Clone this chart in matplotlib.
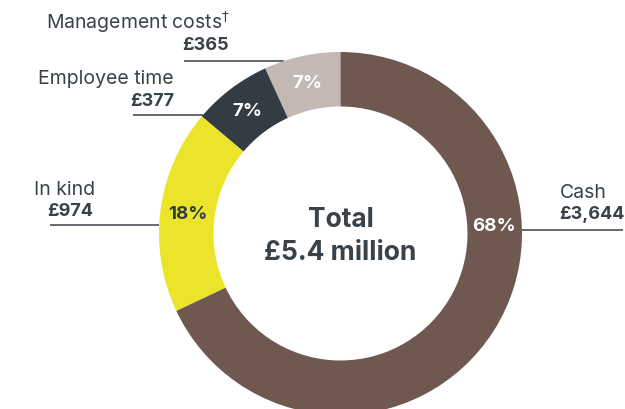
import numpy as np
import matplotlib.pyplot as plt

# funding sources, in £ thousands
names = ['Management costs', 'Employee time', 'In kind', 'Cash']
values = [365, 377, 974, 3644]
amounts = ['£365', '£377', '£974', '£3,644']
colors = ['#c4b8b5', '#343c43', '#ece42a', '#6e5850']
pct_colors = ['white', 'white', '#343c43', 'white']
total_label = '£5.4 million'

txt = '#3a4249'
plt.rcParams['font.family'] = ['Inter', 'DejaVu Sans']

fig = plt.figure(figsize=(6.25, 4.1), dpi=100)
ax = fig.add_axes([0, 0, 1, 1])
ax.set_xlim(0, 625)
ax.set_ylim(0, 410)
ax.set_aspect('equal')
ax.axis('off')

cx, cy = 340.5, 410 - 234.5
r_out, r_in = 181.5, 127

wedges, _ = ax.pie(values, colors=colors, startangle=90, counterclock=True,
                   radius=r_out, center=(cx, cy),
                   wedgeprops=dict(width=r_out - r_in, linewidth=0))
ax.set_xlim(0, 625)
ax.set_ylim(0, 410)

# percentage labels at the middle of each ring segment
total = sum(values)
r_mid = (r_out + r_in) / 2
for i, w in enumerate(wedges):
    pct = '%.0f%%' % (values[i] / total * 100)
    if names[i] == 'Cash':
        px, py = 494, 410 - 227
    else:
        a = np.deg2rad((w.theta1 + w.theta2) / 2)
        px, py = cx + r_mid * np.cos(a), cy + r_mid * np.sin(a)
    ax.text(px, py, pct, color=pct_colors[i], fontsize=13.5, fontweight='bold',
            ha='center', va='center')

ax.text(cx, 410 - 220, 'Total', color=txt, fontsize=19, fontweight='bold',
        ha='center', va='center')
ax.text(cx, 410 - 253, total_label, color=txt, fontsize=19, fontweight='bold',
        ha='center', va='center')

# callouts: name, amount, leader line to the outer edge
callouts = [
    (0, 230, 22, 229, 46, 62, 184, 'right'),
    (1, 174, 79, 174, 102, 116, 133, 'right'),
    (2, 95, 190, 93, 212, 226, 50, 'right'),
    (3, 560, 193, 559, 215, 231, 623, 'left'),
]
for i, nx, ny, ax_x, ay, ly, lx, side in callouts:
    name = names[i] + ('$^{\\dagger}$' if i == 0 else '')
    ax.text(nx, 410 - ny, name, color=txt, fontsize=14,
            ha=side, va='center')
    ax.text(ax_x, 410 - ay, amounts[i], color=txt, fontsize=13,
            fontweight='bold', ha=side, va='center')
    dy = (410 - ly) - cy
    edge = np.sqrt(r_out ** 2 - dy ** 2)
    ex = cx + edge if side == 'left' else cx - edge
    ax.plot([lx, ex], [410 - ly] * 2, color='#4a5057', lw=1.2,
            zorder=0, solid_capstyle='butt')

fig.savefig('out.png', dpi=100)
